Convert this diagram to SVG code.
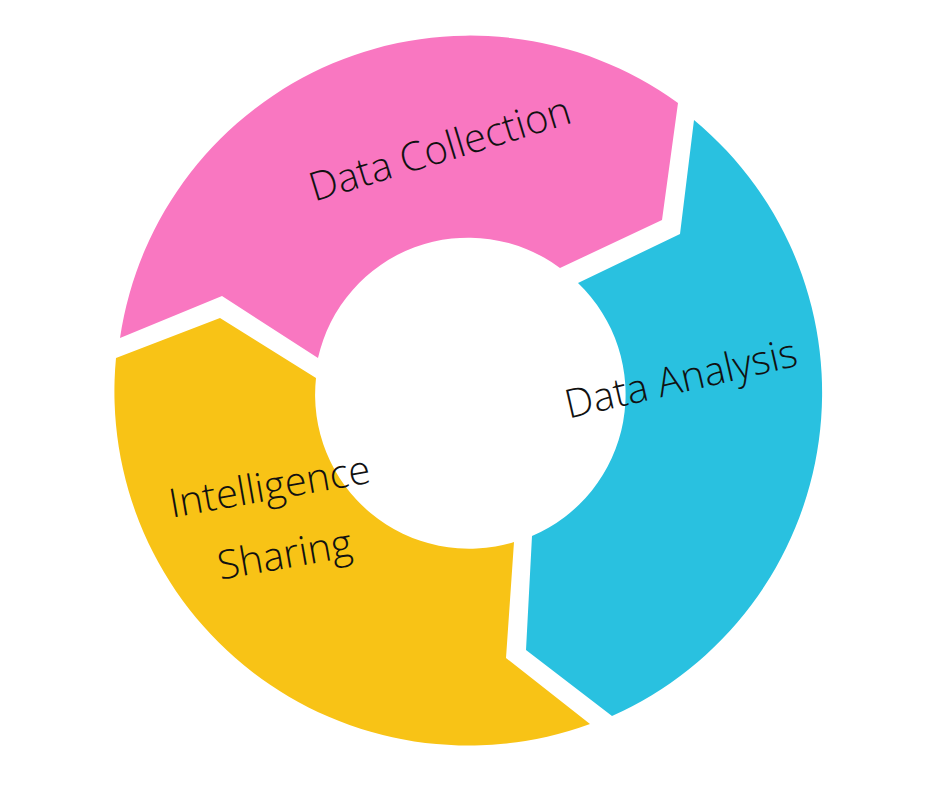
<svg xmlns="http://www.w3.org/2000/svg" width="940" height="788" viewBox="0 0 940 788">
<style>
text{font-family:"Open Sans","Liberation Sans",sans-serif;font-size:40px;fill:#111;text-anchor:middle;font-weight:300}
</style>
<rect width="940" height="788" fill="#fff"/>
<g id="data-collection">
<path d="M120,338 A354 354 0 0 1 678,103 L662,220 L560,268 A154 154 0 0 0 318,358 L222,296 Z" fill="#F977C1"/>
<text transform="translate(444,162) rotate(-17)">Data Collection</text>
</g>
<g id="data-analysis">
<path d="M694,120 A354 354 0 0 1 612,716 L526,650 L532,536 A154 154 0 0 0 578,283 L680,234 Z" fill="#29C1E0"/>
<text transform="translate(684,392) rotate(-13)">Data Analysis</text>
</g>
<g id="intelligence-sharing">
<path d="M590,724 A354 354 0 0 1 116,358 L220,318 L316,378 A154 154 0 0 0 514,542 L506,658 Z" fill="#F8C316"/>
<text transform="translate(272,500) rotate(-10)">Intelligence</text>
<text transform="translate(287,568) rotate(-10)">Sharing</text>
</g>
<g id="connectors"></g>
</svg>
